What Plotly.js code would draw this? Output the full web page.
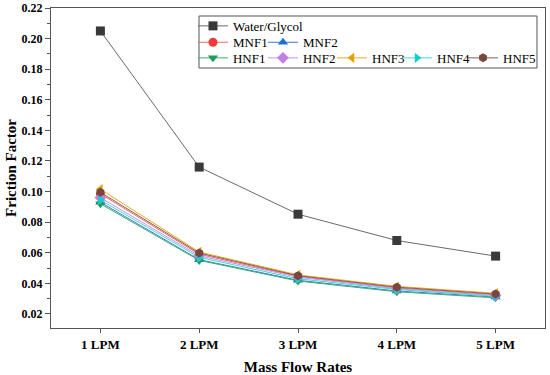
<!DOCTYPE html>
<html>
<head>
<meta charset="utf-8">
<script src="https://cdn.plot.ly/plotly-3.0.1.min.js"></script>
<style>html,body{margin:0;padding:0;background:#fff}#chart{width:550px;height:375px}</style>
</head>
<body>
<div id="chart"></div>
<script>
const categories = ["1 LPM", "2 LPM", "3 LPM", "4 LPM", "5 LPM"];
const waterGlycol = [0.205, 0.116, 0.0852, 0.0680, 0.0578];
const mnf1 = [0.0985, 0.0590, 0.0445, 0.0370, 0.0325];
const mnf2 = [0.0930, 0.0555, 0.0420, 0.0350, 0.0310];
const hnf1 = [0.0920, 0.0550, 0.0415, 0.0345, 0.0305];
const hnf2 = [0.0960, 0.0580, 0.0440, 0.0365, 0.0320];
const hnf3 = [0.1015, 0.0605, 0.0455, 0.0380, 0.0335];
const hnf4 = [0.0945, 0.0570, 0.0430, 0.0360, 0.0315];
const hnf5 = [0.0995, 0.0598, 0.0450, 0.0375, 0.0330];
const yTicks = [0.02, 0.04, 0.06, 0.08, 0.10, 0.12, 0.14, 0.16, 0.18, 0.20, 0.22];

function tr(name, y, color, lineColor, symbol, legend) {
  return {
    x: categories, y: y, name: name, type: 'scatter', mode: 'lines+markers',
    legend: legend,
    line: {color: lineColor, width: 1},
    marker: {color: color, symbol: symbol, size: 9}
  };
}
const data = [
  tr('Water/Glycol', waterGlycol, '#3a3a3a', '#6a6a6a', 'square', 'legend'),
  tr('MNF1', mnf1, '#f23a3a', '#f56a6a', 'circle', 'legend2'),
  tr('MNF2', mnf2, '#1f6ed6', '#3a7ad6', 'triangle-up', 'legend3'),
  tr('HNF1', hnf1, '#1a9e5a', '#3aae70', 'triangle-down', 'legend4'),
  tr('HNF2', hnf2, '#c47de6', '#c890e6', 'diamond', 'legend5'),
  tr('HNF3', hnf3, '#e3a000', '#e0b020', 'triangle-left', 'legend6'),
  tr('HNF4', hnf4, '#18cccc', '#40d8d8', 'triangle-right', 'legend7'),
  tr('HNF5', hnf5, '#7a4642', '#8a5a55', 'hexagon', 'legend8')
];

const font = {family: '"Liberation Serif", "Times New Roman", serif', color: '#000'};
function leg(x, y) {
  return {
    orientation: 'h', xanchor: 'left', yanchor: 'middle', x: x, y: y,
    bgcolor: 'rgba(0,0,0,0)', borderwidth: 0,
    font: Object.assign({}, font, {size: 13}), itemclick: false
  };
}
const r1 = 0.9440, r2 = 0.8928, r3 = 0.8440;
const c1 = 0.2874, c2 = 0.4291, c3 = 0.5688, c4 = 0.7004, c5 = 0.8340;
const layout = {
  width: 550, height: 375,
  margin: {l: 51, r: 5, t: 8, b: 47, pad: 0},
  paper_bgcolor: '#fff', plot_bgcolor: '#fff',
  font: font,
  showlegend: true,
  legend: leg(c1, r1),
  legend2: leg(c1, r2),
  legend3: leg(c2, r2),
  legend4: leg(c1, r3),
  legend5: leg(c2, r3),
  legend6: leg(c3, r3),
  legend7: leg(c4, r3),
  legend8: leg(c5, r3),
  xaxis: {
    type: 'category', range: [-0.5, 4.5],
    showline: true, linecolor: '#555', linewidth: 1, mirror: true,
    ticks: 'outside', ticklen: 4, tickcolor: '#555', showgrid: false, zeroline: false,
    tickfont: Object.assign({}, font, {size: 13, weight: 'bold'}),
    title: {text: 'Mass Flow Rates', font: Object.assign({}, font, {size: 15, weight: 'bold'}), standoff: 10}
  },
  yaxis: {
    range: [0.0108, 0.22], tickvals: yTicks, ticktext: yTicks.map(v => v.toFixed(2)),
    showline: true, linecolor: '#555', linewidth: 1, mirror: true,
    ticks: 'outside', ticklen: 5, tickcolor: '#555', showgrid: false, zeroline: false,
    minor: {dtick: 0.01, tick0: 0.01, ticks: 'outside', ticklen: 3, tickcolor: '#555', showgrid: false},
    tickfont: Object.assign({}, font, {size: 12, weight: 'bold'}),
    title: {text: 'Friction Factor', font: Object.assign({}, font, {size: 15, weight: 'bold'}), standoff: 1}
  },
  shapes: [{
    type: 'rect', xref: 'paper', yref: 'paper',
    x0: 0.2996, x1: 0.9838, y0: 0.8125, y1: 0.975,
    line: {color: '#555', width: 1}, fillcolor: 'rgba(0,0,0,0)', layer: 'above'
  }]
};
Plotly.newPlot('chart', data, layout, {staticPlot: true, displayModeBar: false});
</script>
</body>
</html>
